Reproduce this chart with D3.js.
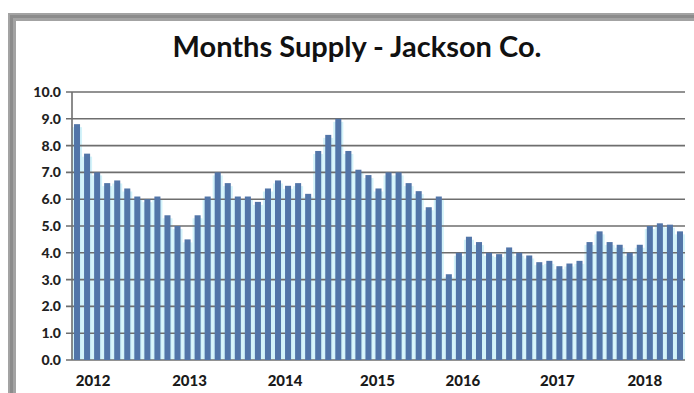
<!DOCTYPE html>
<html>
<head>
<meta charset="utf-8">
<script src="https://cdn.jsdelivr.net/npm/d3@7"></script>
<style>
  body { margin: 0; background: #fff; }
  svg { display: block; font-family: Lato, "Open Sans", sans-serif; }
</style>
</head>
<body>
<div id="chart"></div>
<script>
// months supply, one bar per month
const supply = [
  8.8, 7.7, 7.0, 6.6, 6.7, 6.4, 6.1, 6.0, 6.1, 5.4, 5.0, 4.5, 5.4, 6.1, 7.0,
  6.6, 6.1, 6.1, 5.9, 6.4, 6.7, 6.5, 6.6, 6.2, 7.8, 8.4, 9.0, 7.8, 7.1, 6.9,
  6.4, 7.0, 7.0, 6.6, 6.3, 5.7, 6.1, 3.2, 4.0, 4.6, 4.4, 4.0, 3.95, 4.2, 4.0,
  3.9, 3.65, 3.7, 3.5, 3.6, 3.7, 4.4, 4.8, 4.4, 4.3, 4.0, 4.3, 5.0, 5.1, 5.05, 4.8
];
const yearLabels = ["2012", "2013", "2014", "2015", "2016", "2017", "2018"];
// where each year label sits, in bar-index units
const yearLabelAt = [1.6, 11.2, 20.7, 29.9, 38.4, 47.8, 56.5];
const yTicks = [0, 1, 2, 3, 4, 5, 6, 7, 8, 9, 10];
const title = "Months Supply - Jackson Co.";

const width = 694, height = 393;
const margin = { top: 92, right: 9, bottom: 33, left: 72 };

const svg = d3.select("#chart").append("svg")
  .attr("width", width)
  .attr("height", height);

// window frame, top and left
svg.append("rect").attr("x", 8).attr("y", 13).attr("width", width - 8).attr("height", 8).attr("fill", "#a3a3a3");
svg.append("rect").attr("x", 8).attr("y", 13).attr("width", 8).attr("height", height - 13).attr("fill", "#a3a3a3");
svg.append("rect").attr("x", 10).attr("y", 15).attr("width", width - 10).attr("height", 3).attr("fill", "#8c8c8c");
svg.append("rect").attr("x", 10).attr("y", 15).attr("width", 3).attr("height", height - 15).attr("fill", "#8c8c8c");

const x = d3.scaleBand()
  .domain(d3.range(supply.length))
  .range([margin.left, width - margin.right])
  .paddingInner(0.4)
  .paddingOuter(0.2);
const xPos = d3.scaleLinear()
  .domain([0, supply.length])
  .range([margin.left, width - margin.right]);
const y = d3.scaleLinear()
  .domain([0, 10])
  .range([height - margin.bottom, margin.top]);

// light cyan fill in the gaps between bars
const gapPad = (x.step() - x.bandwidth()) / 2;
svg.append("g")
  .selectAll("rect")
  .data(supply)
  .join("rect")
  .attr("x", (d, i) => x(i) - gapPad)
  .attr("width", x.step())
  .attr("y", (d) => y(d) + 3)
  .attr("height", (d) => y(0) - y(d) - 3)
  .attr("fill", "#d3f3fa");

// gridlines
svg.append("g")
  .selectAll("line")
  .data(yTicks)
  .join("line")
  .attr("x1", margin.left - 6)
  .attr("x2", width - margin.right)
  .attr("y1", (d) => y(d))
  .attr("y2", (d) => y(d))
  .attr("stroke", "#6e6e6e")
  .attr("stroke-width", 1.6);

svg.append("g")
  .selectAll("rect")
  .data(supply)
  .join("rect")
  .attr("x", (d, i) => x(i))
  .attr("width", x.bandwidth())
  .attr("y", (d) => y(d))
  .attr("height", (d) => y(0) - y(d))
  .attr("fill", "#5275a8");

svg.append("line")
  .attr("x1", margin.left).attr("x2", margin.left)
  .attr("y1", y(10)).attr("y2", y(0))
  .attr("stroke", "#6e6e6e")
  .attr("stroke-width", 1.6);

svg.append("g")
  .selectAll("text")
  .data(yTicks)
  .join("text")
  .attr("x", margin.left - 11)
  .attr("y", (d) => y(d))
  .attr("dy", "0.35em")
  .attr("text-anchor", "end")
  .attr("font-size", 14)
  .attr("font-weight", 900)
  .attr("fill", "#222")
  .text((d) => d3.format(".1f")(d));

svg.append("g")
  .selectAll("text")
  .data(yearLabels)
  .join("text")
  .attr("x", (d, i) => xPos(yearLabelAt[i] + 0.5))
  .attr("y", 386)
  .attr("text-anchor", "middle")
  .attr("font-size", 15)
  .attr("font-weight", 900)
  .attr("fill", "#1a1a1a")
  .text((d) => d);

svg.append("text")
  .attr("x", 357)
  .attr("y", 57)
  .attr("text-anchor", "middle")
  .attr("font-size", 29)
  .attr("font-weight", 700)
  .attr("fill", "#111")
  .text(title);
</script>
</body>
</html>
